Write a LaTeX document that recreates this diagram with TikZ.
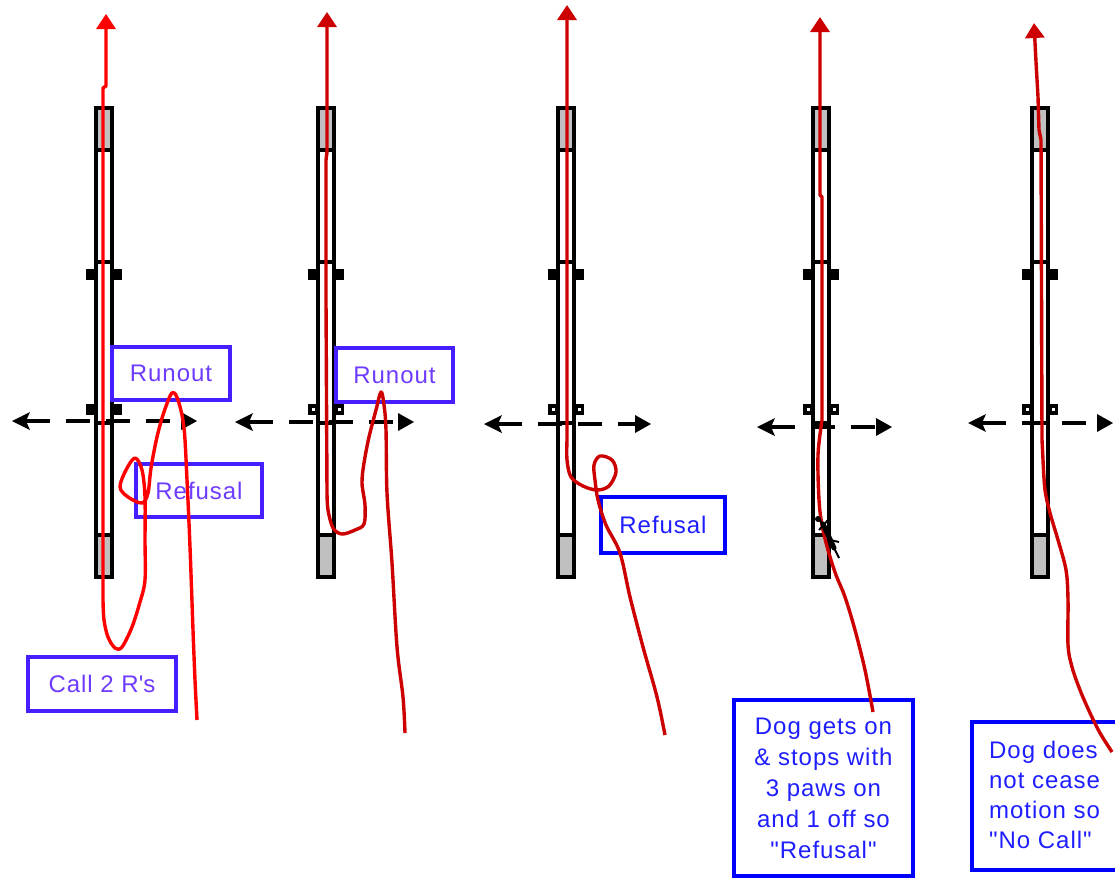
\documentclass[tikz,border=0pt]{standalone}
\usepackage{fontspec}
\newfontfamily\lbl[LetterSpace=4]{Liberation Sans}
\usetikzlibrary{arrows.meta}
\definecolor{redA}{RGB}{255,0,0}
\definecolor{redB}{RGB}{204,0,0}
\definecolor{txtA}{RGB}{110,60,255}
\definecolor{bdA}{RGB}{70,30,255}
\definecolor{txtB}{RGB}{30,30,255}
\definecolor{bdB}{RGB}{0,0,255}
\definecolor{boardgray}{RGB}{192,192,192}
\begin{document}
\begin{tikzpicture}[x=1pt,y=-1pt,
  boardline/.style={line width=3.6pt, black},
  guide/.style={line width=3.6pt, black, dash pattern=on 24pt off 16pt},
  trail/.style={line width=3.4pt, line join=round, -{Triangle[width=19pt,length=15pt]}},
  lblbox/.style={draw, fill=white, line width=3.6pt, inner sep=0pt, font=\lbl\fontsize{24}{31}\selectfont},
  lbltext/.style={inner sep=0pt, font=\lbl\fontsize{24}{30}\selectfont},
  ]
\useasboundingbox (0,0) rectangle (1115,878);
\clip (0,0) rectangle (1115,878);
\fill[white] (0,0) rectangle (1115,878);

% boards
\foreach \c/\dot in {104/0, 326/1, 566/1, 821/1, 1040/1} {
  \fill[white] (\c-8,108) rectangle (\c+8,577);
  \fill[boardgray] (\c-8,108) rectangle (\c+8,150);
  \fill[boardgray] (\c-8,535) rectangle (\c+8,577);
  \draw[boardline] (\c-8,108) rectangle (\c+8,577);
  \foreach \yy in {150,262,423,535} \draw[boardline] (\c-8,\yy) -- (\c+8,\yy);
  \fill (\c-18,269) rectangle (\c-8,280);
  \fill (\c+8,269) rectangle (\c+18,280);
  \fill (\c-18,404) rectangle (\c-8,415);
  \fill (\c+8,404) rectangle (\c+18,415);
  \ifnum\dot=1
    \fill[white] (\c-14.5,408) rectangle (\c-11.5,411);
    \fill[white] (\c+11.5,408) rectangle (\c+14.5,411);
  \fi
}

% dashed guide lines with arrow heads
\foreach \l/\r/\y in {12/197/421, 235/414/422, 484/651/424, 757/892/427, 968/1113/423} {
  \draw[guide] (\l+14,\y) -- (\r-14,\y);
  \fill (\l,\y) -- (\l+18,\y-9) -- (\l+14,\y) -- (\l+18,\y+9) -- cycle;
  \fill (\r,\y) -- (\r-16,\y-9) -- (\r-16,\y+9) -- cycle;
}

% label boxes
\node[lblbox, draw=bdA, text=txtA, minimum width=118pt, minimum height=53pt] (run1) at (171,373.5) {Runout};
\node[lblbox, draw=bdA, text=txtA, minimum width=126pt, minimum height=53pt] (ref1) at (199,490.5) {Refusal};
\node[lblbox, draw=bdA, text=txtA, minimum width=148pt, minimum height=54pt] (call) at (102,684) {Call 2 R\textquotesingle s};
\node[lblbox, draw=bdA, text=txtA, minimum width=117pt, minimum height=54pt] (run2) at (394.5,375) {Runout};
\node[lblbox, draw=bdB, text=txtB, minimum width=124pt, minimum height=56pt] (ref3) at (663,525) {Refusal};
\node[lblbox, draw=bdB, text=txtB, minimum width=179pt, minimum height=176pt, align=center] (box4) at (823.5,788) {Dog gets on\\\& stops with\\3 paws on\\and 1 off so\\"Refusal"};
\node[lblbox, draw=bdB, minimum width=160pt, minimum height=148pt] (box5) at (1052,796) {};
\node[lbltext, text=txtB, align=left, anchor=west] (txt5) at (989,795) {Dog does\\not cease\\motion so\\"No Call"};

% dog trails
\draw[trail, redA] plot[smooth, tension=0.55] coordinates {(197,720) (195,680) (193,630) (190,547) (187,480) (184,428) (178,400) (172,393) (164,412) (157,437) (151,468) (148,493) (142,503) (128,497) (120,487) (126,470) (135,458) (142,470) (145,497) (145,540) (145,580) (140,602) (132,627) (122,647) (115,648) (108,637) (104,620) (103,600)} -- (103,88) -- (106,86) -- (106,14);

\draw[trail, redB] plot[smooth, tension=0.55] coordinates {(405,733) (403,697) (397,647) (392,563) (387,493) (386,430) (384,405) (381,392) (376,410) (369,437) (364,463) (362,483) (365,505) (364,524) (355,530) (342,534) (333,528) (328,510) (327,493)} -- (326,300) -- (326,160) -- (327,152) -- (327,12);

\draw[trail, redB] plot[smooth, tension=0.55] coordinates {(665,735) (657,697) (643,647) (630,597) (620,553) (606,525) (598,500) (595,480) (594,465) (600,456) (612,460) (616,472) (609,486) (597,490) (583,486) (571,477) (567,460) (567,440)} -- (567,5);

\draw[trail, redB] plot[smooth, tension=0.55] coordinates {(873,712) (865,670) (855,630) (845,597) (836,575) (828,550) (822,525) (819,500) (818,455) (822,420)} -- (822,197) -- (820,195) -- (820,17);

\draw[trail, redB] plot[smooth, tension=0.55] coordinates {(1112,752) (1100,733) (1090,713) (1080,690) (1072,667) (1068,645) (1068,600) (1066,570) (1058,540) (1050,513) (1045,490) (1043,460)} -- (1042,440) -- (1041,140) -- (1039,130) -- (1038,97) -- (1036,62) -- (1034,23);

% dog on the board (panel 4)
\draw[black, line width=5pt, line cap=round] (823,524) -- (834,548);
\draw[black, line width=2pt] (817,517) -- (826,528);
\draw[black, line width=2pt] (819,530) -- (828,520);
\draw[black, line width=2pt] (830,540) -- (839,542);
\draw[black, line width=2pt] (834,548) -- (839,558);
\fill[black] (818,519) circle (3pt);
\end{tikzpicture}
\end{document}
